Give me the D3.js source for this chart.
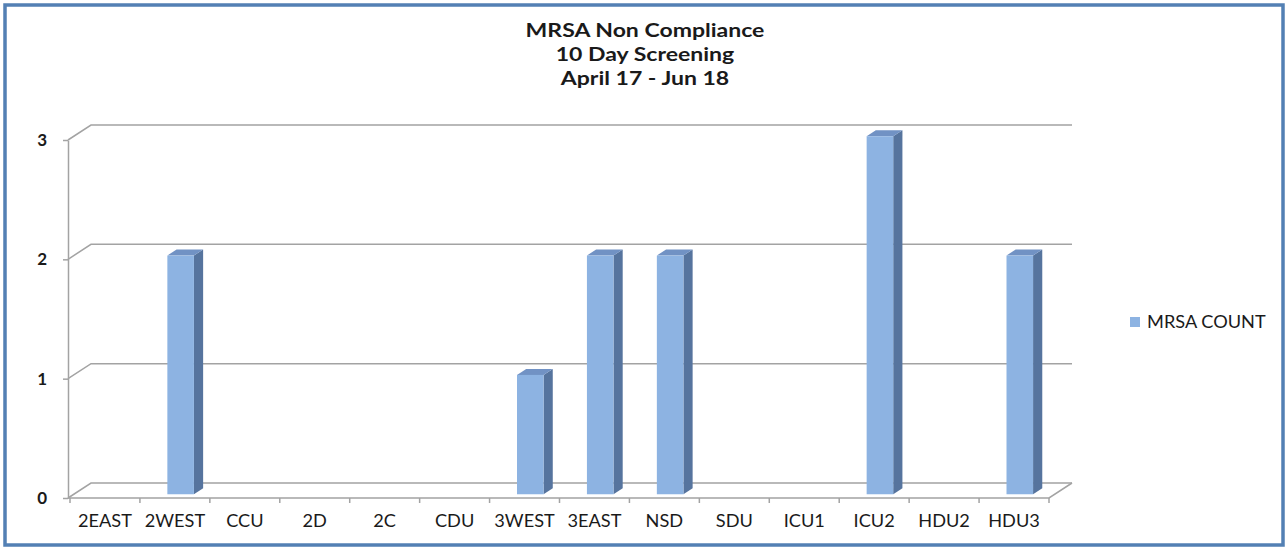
<!DOCTYPE html>
<html>
<head>
<meta charset="utf-8">
<script src="https://cdn.jsdelivr.net/npm/d3@7"></script>
<style>
  html, body { margin: 0; padding: 0; background: #fff; }
  svg { display: block; font-family: Lato, "Open Sans", sans-serif; }
</style>
</head>
<body>
<svg id="chart" width="1288" height="551"></svg>
<script>
const categories = ["2EAST", "2WEST", "CCU", "2D", "2C", "CDU", "3WEST", "3EAST", "NSD", "SDU", "ICU1", "ICU2", "HDU2", "HDU3"]
const counts = [0, 2, 0, 0, 0, 0, 1, 2, 2, 0, 0, 3, 0, 2]
const yTicks = [0, 1, 2, 3]
const titleLines = ["MRSA Non Compliance", "10 Day Screening", "April 17 - Jun 18"]
const seriesName = "MRSA COUNT"

const chartWidth = 1288
const chartHeight = 551

// floor / wall geometry of the fake 3d plot
const plotLeft = 68
const plotRight = 1049
const plotBottom = 498
const plotTop = 140
const depthX = 23
const depthY = -15

const gridColor = "#a3a3a3"
const barFront = "#8db3e2"
const barSide = "#56749e"
const barTop = "#7192c4"

const svg = d3.select("#chart")

// frame
svg.append("rect")
    .attr("x", 5).attr("y", 5)
    .attr("width", chartWidth - 10).attr("height", chartHeight - 11)
    .attr("fill", "#fff")
    .attr("stroke", "#5380b4")
    .attr("stroke-width", 3.5)

const x = d3.scaleBand().domain(categories).range([plotLeft + 2, plotRight])
const y = d3.scaleLinear().domain([0, 3]).range([plotBottom, plotTop])

// title (the original is a wide, stretched font)
svg.append("g")
    .attr("transform", "translate(645,0) scale(1.28,1)")
    .selectAll("text")
    .data(titleLines)
    .join("text")
    .attr("x", 0)
    .attr("y", (d, i) => 37 + i * 24)
    .attr("text-anchor", "middle")
    .attr("font-size", 18)
    .attr("font-weight", "bold")
    .attr("fill", "#1a1a1a")
    .text(d => d)

// back wall gridlines with the diagonal from the front axis
svg.append("g")
    .selectAll("path")
    .data(yTicks)
    .join("path")
    .attr("fill", "none")
    .attr("stroke", gridColor)
    .attr("stroke-width", 1.5)
    .attr("d", d => `M${plotLeft},${y(d)}L${plotLeft + depthX},${y(d) + depthY}H${plotRight + depthX}`)

// floor
svg.append("path")
    .attr("fill", "none")
    .attr("stroke", gridColor)
    .attr("stroke-width", 1.5)
    .attr("d", `M${plotLeft},${plotBottom}H${plotRight}L${plotRight + depthX},${plotBottom + depthY}`)

// y axis
const yAxis = svg.append("g")
    .attr("transform", `translate(${plotLeft},0)`)
    .call(d3.axisLeft(y).tickValues(yTicks).tickFormat(d3.format("d")).tickSize(5).tickSizeOuter(0).tickPadding(16))
yAxis.select(".domain").attr("stroke", gridColor).attr("stroke-width", 1.5)
yAxis.selectAll(".tick line").attr("stroke", gridColor).attr("stroke-width", 1.5)
yAxis.selectAll(".tick text")
    .attr("font-size", 17)
    .attr("font-weight", "bold")
    .attr("fill", "#1a1a1a")
    .attr("font-family", "Lato, sans-serif")

// x axis: labels centred in band, ticks at band edges
const xAxis = svg.append("g")
    .attr("transform", `translate(0,${plotBottom})`)
    .call(d3.axisBottom(x).tickSize(0).tickPadding(17))
xAxis.select(".domain").remove()
xAxis.selectAll(".tick text")
    .attr("font-size", 17)
    .attr("fill", "#1a1a1a")
    .attr("font-family", "Lato, sans-serif")
    .attr("transform", "scale(1.07,1)")

const edges = categories.map(c => x(c)).concat([x.range()[1]])
svg.append("g")
    .selectAll("line")
    .data(edges)
    .join("line")
    .attr("x1", d => d).attr("x2", d => d)
    .attr("y1", plotBottom).attr("y2", plotBottom + 5)
    .attr("stroke", gridColor)
    .attr("stroke-width", 1.5)

// bars: front face sits a quarter of the way into the floor
const bw = x.bandwidth() * 0.38
const d0 = 0.25
const d1 = 0.65
const sideX = (d1 - d0) * depthX
const sideY = (d1 - d0) * depthY

const bars = svg.append("g")
    .selectAll("g")
    .data(categories.map((c, i) => ({cat: c, value: counts[i]})).filter(d => d.value > 0))
    .join("g")
    .attr("transform", d => `translate(${x(d.cat) + (x.bandwidth() - bw) / 2 + d0 * depthX},${d0 * depthY})`)

bars.append("path")
    .attr("fill", barSide)
    .attr("d", d => `M${bw},${y(d.value)}L${bw + sideX},${y(d.value) + sideY}V${y(0) + sideY}L${bw},${y(0)}Z`)

bars.append("path")
    .attr("fill", barTop)
    .attr("d", d => `M0,${y(d.value)}L${sideX},${y(d.value) + sideY}H${bw + sideX}L${bw},${y(d.value)}Z`)

bars.append("rect")
    .attr("x", 0)
    .attr("y", d => y(d.value))
    .attr("width", bw)
    .attr("height", d => y(0) - y(d.value))
    .attr("fill", barFront)

// legend
const legend = svg.append("g").attr("transform", "translate(1130,322)")
legend.append("rect")
    .attr("x", 0).attr("y", -5)
    .attr("width", 10).attr("height", 10)
    .attr("fill", barFront)
legend.append("g")
    .attr("transform", "translate(17,0) scale(1.07,1)")
    .append("text")
    .attr("x", 0)
    .attr("y", 0)
    .attr("dy", "0.35em")
    .attr("font-size", 17)
    .attr("fill", "#1a1a1a")
    .text(seriesName)
</script>
</body>
</html>
